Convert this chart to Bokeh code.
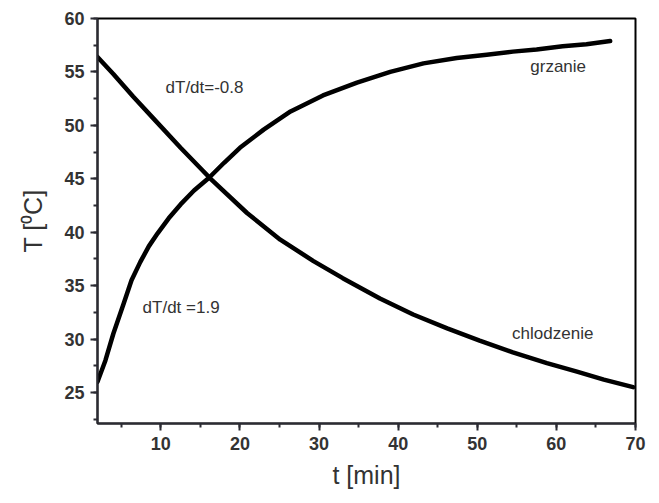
from bokeh.plotting import figure
from bokeh.models import Range1d, SingleIntervalTicker
from bokeh.core.properties import value
from bokeh.embed import file_html
from bokeh.resources import INLINE

# heating curve (grzanie)
heat_t = [2.0, 3.0, 4.0, 5.3, 6.3, 7.4, 8.5, 9.6, 11.0, 12.5, 14.2, 16.1, 18.0, 20.0,
          23.0, 26.4, 30.5, 34.8, 39.0, 43.2, 47.4, 51.2, 54.5, 57.5, 60.8, 63.8, 66.8]
heat_T = [26.0, 28.0, 30.5, 33.3, 35.5, 37.2, 38.7, 39.9, 41.3, 42.6, 43.9, 45.1, 46.5, 47.9,
          49.6, 51.3, 52.8, 54.0, 55.0, 55.8, 56.3, 56.6, 56.9, 57.1, 57.4, 57.6, 57.9]

# cooling curve (chlodzenie)
cool_t = [2.0, 4.0, 6.5, 9.0, 12.5, 16.3, 20.9, 25.1, 29.3, 33.0, 37.7, 41.9, 46.2,
          50.3, 54.5, 58.8, 62.6, 66.0, 69.7]
cool_T = [56.4, 54.8, 52.7, 50.7, 47.9, 45.0, 41.8, 39.3, 37.3, 35.7, 33.8, 32.3, 31.0,
          29.85, 28.75, 27.75, 26.95, 26.2, 25.5]

labels = ["dT/dt=-0.8", "dT/dt =1.9", "grzanie", "chlodzenie"]
label_t = [10.6, 7.7, 56.7, 54.4]
label_T = [53.5, 33.0, 55.5, 30.55]

p = figure(width=651, height=495, output_backend="svg", toolbar_location=None,
           x_range=Range1d(2, 70), y_range=Range1d(22.1, 60),
           min_border_left=97, min_border_right=16, min_border_top=18, min_border_bottom=72)
p.background_fill_color = "white"
p.border_fill_color = "white"
p.grid.visible = False
p.outline_line_color = "black"
p.outline_line_width = 2

p.line(heat_t, heat_T, line_color="black", line_width=4.5, line_join="round", line_cap="round")
p.line(cool_t, cool_T, line_color="black", line_width=4.5, line_join="round", line_cap="round")

p.text(x=label_t, y=label_T, text=labels, text_font=value("Liberation Sans"),
       text_font_size="17px", text_color="#333333", text_baseline="middle", text_align="left")

p.xaxis.ticker = SingleIntervalTicker(interval=10, num_minor_ticks=2)
p.yaxis.ticker = SingleIntervalTicker(interval=5, num_minor_ticks=2)

for ax in (p.xaxis[0], p.yaxis[0]):
    ax.axis_line_color = "#2b2b33"
    ax.axis_line_width = 2
    ax.major_tick_line_color = "#2b2b33"
    ax.major_tick_line_width = 2
    ax.minor_tick_line_color = "#2b2b33"
    ax.minor_tick_line_width = 2
    ax.major_tick_out = 7
    ax.major_tick_in = 0
    ax.minor_tick_out = 4
    ax.minor_tick_in = 0
    ax.major_label_text_font = "Liberation Sans"
    ax.major_label_text_font_style = "bold"
    ax.major_label_text_font_size = "18px"
    ax.major_label_text_color = "#333333"
    ax.axis_label_text_font = "Liberation Sans"
    ax.axis_label_text_font_style = "normal"
    ax.axis_label_text_font_size = "25px"
    ax.axis_label_text_color = "#333333"

p.xaxis.axis_label = "t [min]"
p.yaxis.axis_label = "T [\u2070C]"
p.xaxis.major_label_standoff = 6
p.xaxis.axis_label_standoff = 8
p.yaxis.major_label_standoff = 6
p.yaxis.axis_label_standoff = 14

open("out.html", "w").write(file_html(p, INLINE))
